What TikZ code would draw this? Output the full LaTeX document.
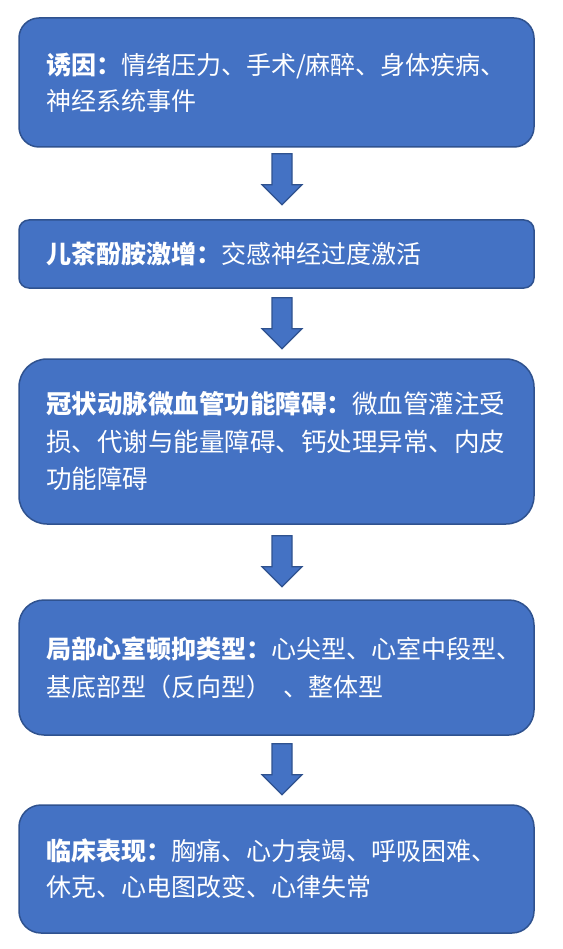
\documentclass[tikz,border=0pt]{standalone}
\usepackage{fontspec}
\setmainfont{Noto Sans CJK SC}
\usetikzlibrary{calc}
\definecolor{boxfill}{HTML}{4472C4}
\definecolor{boxline}{HTML}{2F528F}
\tikzset{
  flowbox/.style={draw=boxline, fill=boxfill, line width=1.5pt, text=white,
    inner xsep=27pt, inner ysep=0pt, text width=461pt, align=left,
    font=\fontsize{25}{36}\selectfont},
  darrow/.pic={\draw[boxline, fill=boxfill, line width=1.2pt, line join=miter]
    (-10,0)--(10,0)--(10,31)--(20,31)--(0,51)--(-20,31)--(-10,31)--cycle;}
}
\begin{document}
\begin{tikzpicture}[x=1pt,y=-1pt]
\useasboundingbox (0,0) rectangle (562,949);
\node[flowbox, minimum height=129pt, rounded corners=20pt] (b1) at (276.5,82.5)
  {\textbf{诱因：}情绪压力、手术/麻醉、身体疾病、\\神经系统事件};
\node[flowbox, minimum height=68pt, rounded corners=10pt] (b2) at (276.5,254)
  {\textbf{儿茶酚胺激增：}交感神经过度激活};
\node[flowbox, minimum height=165pt, rounded corners=28pt,
  font=\fontsize{25.5}{37.5}\selectfont] (b3) at (276.5,441.5)
  {\textbf{冠状动脉微血管功能障碍：}微血管灌注受\\损、代谢与能量障碍、钙处理异常、内皮\\功能障碍};
\node[flowbox, minimum height=135pt, rounded corners=25pt,
  font=\fontsize{25}{38}\selectfont] (b4) at (276.5,667.5)
  {\textbf{局部心室顿抑类型：}心尖型、心室中段型、\\基底部型（反向型）\hspace{0.5em}、整体型};
\node[flowbox, minimum height=128pt, rounded corners=22pt] (b5) at (276.5,869)
  {\textbf{临床表现：}胸痛、心力衰竭、呼吸困难、\\休克、心电图改变、心律失常};
\pic at ($(b1.south)+(5.5,6)$) {darrow};
\pic at ($(b2.south)+(5.5,9)$) {darrow};
\pic at ($(b3.south)+(5.5,11)$) {darrow};
\pic at ($(b4.south)+(5.5,8)$) {darrow};
\end{tikzpicture}
\end{document}
